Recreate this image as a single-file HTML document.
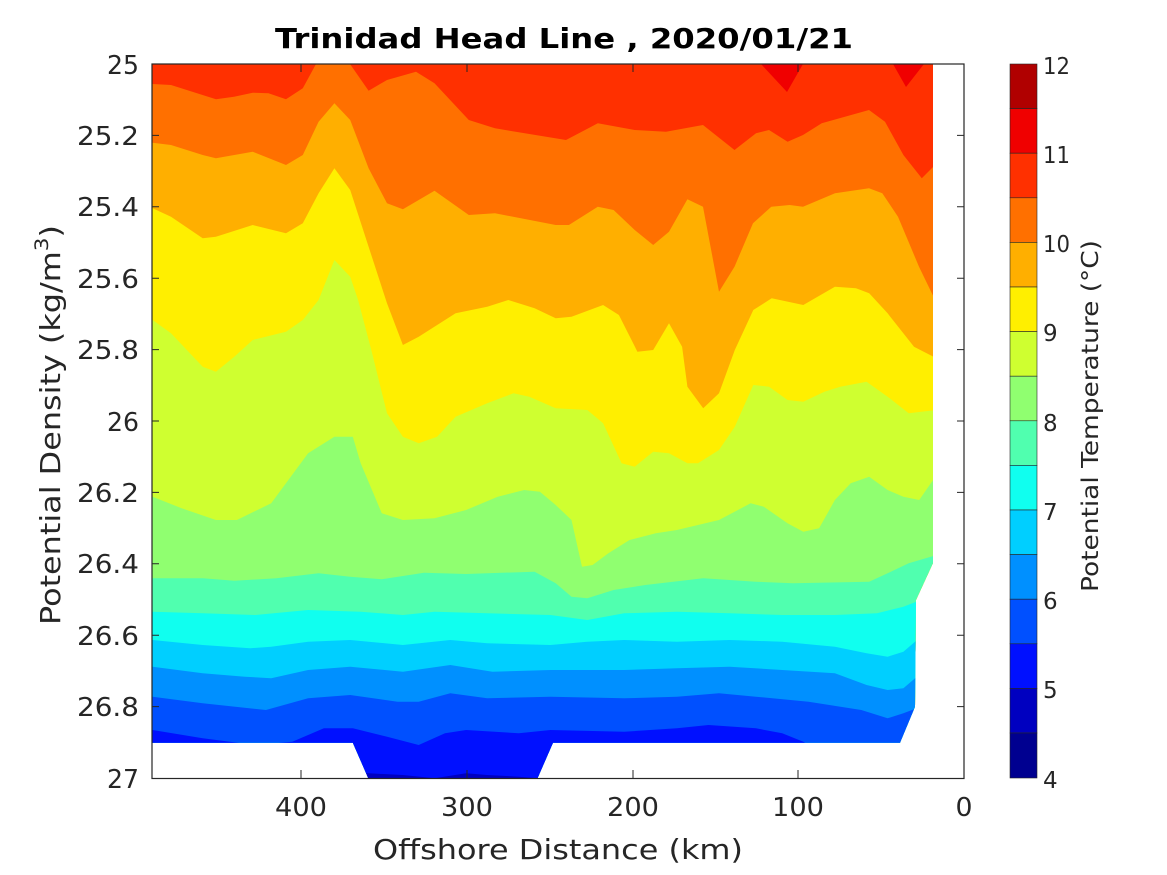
<!DOCTYPE html>
<html><head><meta charset="utf-8"><style>
html,body{margin:0;padding:0;background:#fff;}
svg{display:block;font-family:"DejaVu Sans","Liberation Sans",sans-serif;}
</style></head><body>
<svg width="1167" height="875" viewBox="0 0 1167 875" xmlns="http://www.w3.org/2000/svg">
<defs>
<clipPath id="d"><polygon points="152,64 933,64 933,563 916,600 915,706.7 900,742.7 553,742.7 537.2,779 368.6,779 352.8,742.7 152,742.7"/></clipPath>
</defs>
<rect width="1167" height="875" fill="#fff"/>
<g clip-path="url(#d)">
<rect x="150" y="60" width="800" height="725" fill="#FF3000"/>
<polygon fill="#F00000" points="761,64 787,92 803,64"/>
<polygon fill="#F00000" points="893,64 906,87 924,64"/>
<path fill="#FF7000" d="M150,84 L152.6,84 171,85 216,99.3 234,96.7 252.7,92.7 268.5,93.3 286,99.3 302.8,88.3 316,64 350,64 368.6,90.7 387,80 416,71.7 434.5,83.3 468.8,120 495,128.3 566,140 597.8,123.3 634.7,130 666,131.7 703,125 734.5,150 756,133.3 769,130 787.6,141.7 803,135 821.7,123.3 869,110 885,121.7 903.4,155 921.8,178.3 936.6,163.3 940,163 L940,785 L150,785 Z"/>
<path fill="#FFAF00" d="M150,142.7 L152.6,142.7 171,145 202.7,155 215.9,158.3 252.7,151.7 286,165 302.8,155 318.6,121.7 334.4,103.3 350.2,120 368.6,168.3 387,203.3 402.9,209.3 434.5,190.7 468.8,215 495,213.3 555.7,225 568.9,225 597.8,206.7 613.6,210 634.7,230 653.2,245 669,231.7 687.4,199.3 703,206.7 719,291.7 734.5,266.7 753,223.3 771.3,206.7 789.7,205 803,206.7 835,193.3 869,188.3 882.3,193.3 898,216.7 919,266.7 936.6,303 940,303 L940,785 L150,785 Z"/>
<path fill="#FFEF00" d="M150,208.3 L152.6,208.3 171,216.7 202.7,238.3 215.9,236.7 252.7,225 286,233.3 302.8,223.3 318.6,193.3 334.4,168.3 350.2,190 368.6,246.7 387,303.3 402.9,345 418.7,336.7 455.6,313.3 487.2,306.7 508.3,300 534.6,308.3 555.7,318.3 571.5,316.7 603.1,305 618.9,315 637.4,351.7 653.2,350 669,323.3 682.1,346.7 687.4,386.7 703.2,408.3 719,393.3 734.8,350 753.3,310 771.7,298.3 803.3,305 834.9,286.7 856,288.3 869.2,293.3 887.6,313.3 914,346.7 936.6,358.3 940,358 L940,785 L150,785 Z"/>
<path fill="#CFFF30" d="M150,320 L152.6,320 171,333.3 202.7,366.7 215.9,371.7 234.3,356.7 252.7,340 286,331.7 302.8,320 318.6,300 334.4,260 350.2,276.7 358.1,300 371.3,350 387,413.3 402.9,436.7 418.7,443.3 437.1,436.7 455.6,416.7 487.2,403.3 513.5,393.3 529.3,396.7 555.7,408.3 587.3,410 603.1,423.3 621.6,463.3 634.7,466.7 653.2,451.7 669,453.3 687.4,463.3 698,463.3 719,450 734.8,426.7 753.3,385 769.1,386.7 787.5,400 803.3,401.7 824.4,391.7 840.2,386.7 866.6,381.7 887.6,396.7 908.7,413.3 936.6,410 940,410 L940,785 L150,785 Z"/>
<path fill="#90FF70" d="M150,496.7 L152.6,496.7 181.6,508.3 215.9,520 236.9,520 271.2,503.3 308.1,453.3 334.4,436.7 352.8,436.7 360.7,463.3 381.8,513.3 402.9,520 434.5,518.3 466.1,510 497.7,496.7 524.1,490 539.9,491.7 555.7,505 571.5,520 582,566.7 592.6,565 608.4,553.3 629.5,540 655.8,533.3 676.9,530 719,520 750.6,503.3 763.8,506.7 787.5,523.3 803.3,531.7 819.1,528.3 834.9,500 850.7,483.3 869.2,476.7 887.6,490 903.4,496.7 919.2,500 936.6,475 940,475 L940,785 L150,785 Z"/>
<path fill="#50FFAF" d="M150,578.3 L152.6,578.3 202.7,578.3 234.3,580.7 276.4,578.3 318.6,573.3 350.2,576.7 381.8,579.3 424,572.7 466.1,574 534.6,571.7 555.7,583.3 571.5,596.7 587.3,598.3 613.6,590 645.3,585 703.2,578.3 755.9,581.7 792.8,583.3 869.2,581.7 887.6,573.3 908.7,563.3 936.6,555 940,555 L940,785 L150,785 Z"/>
<path fill="#10FFEF" d="M150,611.7 L152.6,611.7 202.7,613.3 255.4,615 308.1,610 360.7,611.7 402.9,615 434.5,611.7 487.2,613.3 550.4,615 587.3,620 624.2,613.3 676.9,611.7 729.6,613.3 782.2,615 834.9,615 877,613.3 903.4,606.7 920.8,600 940,598 L940,785 L150,785 Z"/>
<path fill="#00CFFF" d="M150,640 L152.6,640 202.7,645 250.1,648.3 271.2,646.7 308.1,641.7 350.2,640 402.9,645 450.3,640 487.2,643.3 550.4,645 587.3,641.7 624.2,640 676.9,641.7 729.6,640 782.2,641.7 834.9,646.7 866.6,653.3 887.6,656.7 903.4,651.7 920.8,636.7 940,636 L940,785 L150,785 Z"/>
<path fill="#0090FF" d="M150,666.7 L152.6,666.7 202.7,673.3 245,676.7 271.2,678.3 308.1,670 350.2,666.7 402.9,671.7 450.3,665 492.5,671.7 550.4,670 624.2,670 676.9,668.3 729.6,666.7 782.2,670 834.9,673.3 866.6,685 887.6,690 903.4,688.3 920.8,673.3 940,672 L940,785 L150,785 Z"/>
<path fill="#0050FF" d="M150,696.7 L152.6,696.7 202.7,703.3 265.9,710 308.1,698.3 350.2,695 397.6,701.7 418.7,701.7 450.3,693.3 487.2,698.3 550.4,696.7 624.2,698.3 676.9,696.7 719,693.3 755.9,696.7 808.6,701.7 861.3,710 887.6,718.3 903.4,713.3 920.8,706.7 940,706 L940,785 L150,785 Z"/>
<path fill="#0010FF" d="M150,730 L152.6,730 202.7,738.3 255.4,745 292.3,741.7 323.9,728.3 352.8,728.3 387.1,736.7 418.7,745 445,733.3 466.1,730 518.8,733.3 550.4,730 624.2,731.7 676.9,728.3 708.5,725 755.9,728.3 782.2,733.3 803.3,741.7 810,746 940,746 L940,785 L150,785 Z"/>
<path fill="#0000C0" d="M360,773.3 L368.6,773.3 402.9,775 434.5,778.3 466.1,773.3 487.2,775 518.8,776.7 537.2,778.3 545,778 L545,785 L360,785 Z"/>
</g>
<rect x="152" y="64" width="812" height="714.5" fill="none" stroke="#262626" stroke-width="1.2"/>
<g stroke="#262626" stroke-width="1">
<path d="M152,135.4h7M152,206.8h7M152,278.2h7M152,349.6h7M152,421h7M152,492.4h7M152,563.8h7M152,635.2h7M152,706.6h7"/>
<path d="M964,135.4h-7M964,206.8h-7M964,278.2h-7M964,349.6h-7M964,421h-7M964,492.4h-7M964,563.8h-7M964,635.2h-7M964,706.6h-7"/>
<path d="M301,778v-8M467,778v-8M633,778v-8M798,778v-8M301,64v8M467,64v8M633,64v8M798,64v8"/>
</g>
<g font-size="26" fill="#262626" text-anchor="end" lengthAdjust="spacingAndGlyphs">
<text x="139" y="74" textLength="32" lengthAdjust="spacingAndGlyphs">25</text>
<text x="139" y="145" textLength="62" lengthAdjust="spacingAndGlyphs">25.2</text>
<text x="139" y="216" textLength="62" lengthAdjust="spacingAndGlyphs">25.4</text>
<text x="139" y="288" textLength="62" lengthAdjust="spacingAndGlyphs">25.6</text>
<text x="139" y="359" textLength="62" lengthAdjust="spacingAndGlyphs">25.8</text>
<text x="139" y="431" textLength="32" lengthAdjust="spacingAndGlyphs">26</text>
<text x="139" y="502" textLength="62" lengthAdjust="spacingAndGlyphs">26.2</text>
<text x="139" y="573" textLength="62" lengthAdjust="spacingAndGlyphs">26.4</text>
<text x="139" y="645" textLength="62" lengthAdjust="spacingAndGlyphs">26.6</text>
<text x="139" y="716" textLength="62" lengthAdjust="spacingAndGlyphs">26.8</text>
<text x="139" y="788" textLength="32" lengthAdjust="spacingAndGlyphs">27</text>
</g>
<g font-size="26" fill="#262626" text-anchor="middle">
<text x="301" y="816" textLength="52" lengthAdjust="spacingAndGlyphs">400</text>
<text x="467" y="816" textLength="52" lengthAdjust="spacingAndGlyphs">300</text>
<text x="633" y="816" textLength="52" lengthAdjust="spacingAndGlyphs">200</text>
<text x="798" y="816" textLength="52" lengthAdjust="spacingAndGlyphs">100</text>
<text x="964" y="816" textLength="17" lengthAdjust="spacingAndGlyphs">0</text>
</g>
<text x="558" y="859" font-size="28" fill="#262626" text-anchor="middle" textLength="370" lengthAdjust="spacingAndGlyphs">Offshore Distance (km)</text>
<text x="564" y="48" font-size="28" font-weight="bold" fill="#000" text-anchor="middle" textLength="578" lengthAdjust="spacingAndGlyphs">Trinidad Head Line , 2020/01/21</text>
<text transform="translate(60,425) rotate(-90)" font-size="28" fill="#262626" text-anchor="middle" textLength="400" lengthAdjust="spacingAndGlyphs">Potential Density (kg/m<tspan font-size="19" dy="-12">3</tspan><tspan dy="12">)</tspan></text>
<g stroke="#262626" stroke-width="0.6">
<rect x="1010" y="64" width="27" height="44.6" fill="#B00000"/>
<rect x="1010" y="108.6" width="27" height="44.6" fill="#F00000"/>
<rect x="1010" y="153.2" width="27" height="44.6" fill="#FF3000"/>
<rect x="1010" y="197.8" width="27" height="44.6" fill="#FF7000"/>
<rect x="1010" y="242.4" width="27" height="44.6" fill="#FFAF00"/>
<rect x="1010" y="287" width="27" height="44.6" fill="#FFEF00"/>
<rect x="1010" y="331.6" width="27" height="44.6" fill="#CFFF30"/>
<rect x="1010" y="376.2" width="27" height="44.6" fill="#90FF70"/>
<rect x="1010" y="420.8" width="27" height="44.6" fill="#50FFAF"/>
<rect x="1010" y="465.4" width="27" height="44.6" fill="#10FFEF"/>
<rect x="1010" y="510" width="27" height="44.6" fill="#00CFFF"/>
<rect x="1010" y="554.6" width="27" height="44.6" fill="#0090FF"/>
<rect x="1010" y="599.2" width="27" height="44.6" fill="#0050FF"/>
<rect x="1010" y="643.8" width="27" height="44.6" fill="#0010FF"/>
<rect x="1010" y="688.4" width="27" height="44.6" fill="#0000C0"/>
<rect x="1010" y="733" width="27" height="45" fill="#000090"/>
</g>
<g font-size="23" fill="#262626">
<text x="1043" y="74" textLength="27" lengthAdjust="spacingAndGlyphs">12</text>
<text x="1043" y="163" textLength="27" lengthAdjust="spacingAndGlyphs">11</text>
<text x="1043" y="252" textLength="27" lengthAdjust="spacingAndGlyphs">10</text>
<text x="1043" y="341">9</text>
<text x="1043" y="431">8</text>
<text x="1043" y="520">7</text>
<text x="1043" y="609">6</text>
<text x="1043" y="698">5</text>
<text x="1043" y="788">4</text>
</g>
<text transform="translate(1098,416) rotate(-90)" font-size="23" fill="#262626" text-anchor="middle" textLength="352" lengthAdjust="spacingAndGlyphs">Potential Temperature (°C)</text>
</svg>
</body></html>
